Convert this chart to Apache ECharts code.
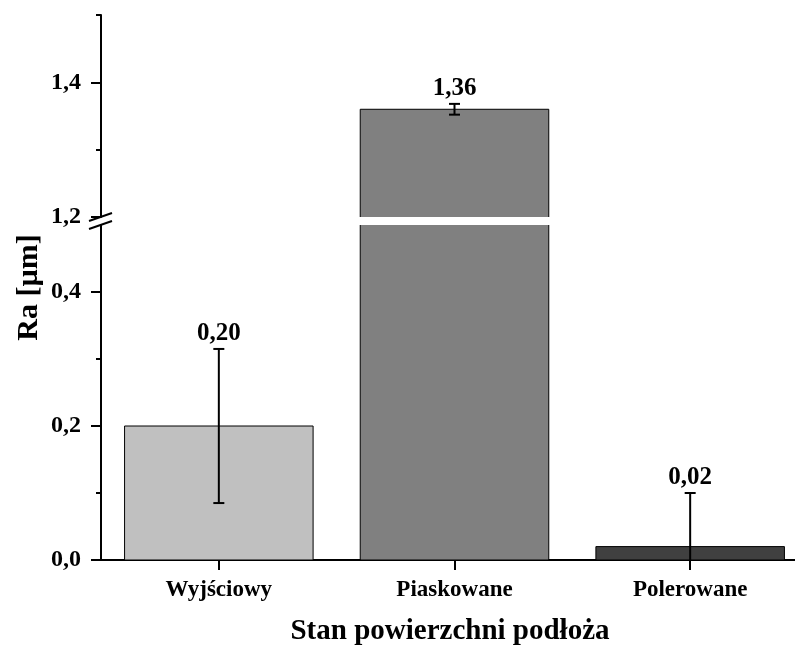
<!DOCTYPE html>
<html><head><meta charset="utf-8">
<script src="https://cdn.jsdelivr.net/npm/echarts@6/dist/echarts.min.js"></script>
<style>html,body{margin:0;padding:0;background:#fff}#c{width:795px;height:648px}</style>
</head><body><div id="c"></div>
<script>
const categories = ['Wyjściowy', 'Piaskowane', 'Polerowane'];
const raValues = [0.20, 1.36, 0.02];
const raErrors = [0.115, 0.008, 0.08];
const barColors = ['#c0c0c0', '#808080', '#404040'];
const lowerRange = [0, 0.5];
const upperRange = [1.2, 1.5];
const lowerMajorTicks = [0, 0.2, 0.4];
const lowerMinorTicks = [0.1, 0.3];
const upperMajorTicks = [1.2, 1.4];
const upperMinorTicks = [1.3, 1.5];
const xAxisTitle = 'Stan powierzchni podłoża';
const yAxisTitle = 'Ra [µm]';

const FONT = '"Liberation Serif","Times New Roman",serif';
const comma1 = v => Number(v).toFixed(1).replace('.', ',');
const comma2 = v => Number(v).toFixed(2).replace('.', ',');

const barData = categories.map((c, i) => [i, raValues[i]]);
const errData = categories.map((c, i) => [i, raValues[i], raErrors[i]]);

function renderBar(params, api) {
  const i = api.value(0), v = api.value(1);
  const top = api.coord([i, v]);
  const base = api.coord([i, 0]);
  const w = api.size([1, 0])[0] * 0.8;
  return {
    type: 'rect',
    shape: { x: top[0] - w / 2, y: top[1], width: w, height: base[1] - top[1] },
    style: { fill: barColors[i], stroke: '#000', lineWidth: 1 }
  };
}

function renderErr(params, api) {
  const i = api.value(0), v = api.value(1), e = api.value(2);
  const cs = params.coordSys;
  const c = api.coord([i, v]);
  if (c[1] < cs.y - 0.5 || c[1] > cs.y + cs.height + 0.5) return null;
  const hi = api.coord([i, v + e]);
  const lo = api.coord([i, v - e]);
  const yTop = Math.max(hi[1], cs.y);
  const yBot = Math.min(lo[1], cs.y + cs.height);
  const cap = 5.5;
  const ls = { stroke: '#000', lineWidth: 2 };
  const children = [
    { type: 'line', shape: { x1: c[0], y1: yTop, x2: c[0], y2: yBot }, style: ls }
  ];
  if (hi[1] >= cs.y) children.push({ type: 'line', shape: { x1: c[0] - cap, y1: hi[1], x2: c[0] + cap, y2: hi[1] }, style: ls });
  if (lo[1] <= cs.y + cs.height) children.push({ type: 'line', shape: { x1: c[0] - cap, y1: lo[1], x2: c[0] + cap, y2: lo[1] }, style: ls });
  children.push({
    type: 'text', x: c[0], y: hi[1] - 3,
    style: { text: comma2(v), fill: '#000', font: 'bold 25px ' + FONT, align: 'center', verticalAlign: 'bottom' }
  });
  return { type: 'group', children };
}

const axisLineStyle = { color: '#000', width: 2 };
const labelStyle = { color: '#000', fontFamily: FONT, fontWeight: 'bold' };

function yMajor(grid, range, ticks, showLine) {
  return {
    type: 'value', gridIndex: grid, position: 'left', min: range[0], max: range[1],
    axisLine: { show: showLine, lineStyle: axisLineStyle },
    axisTick: { show: true, customValues: ticks, length: 10, lineStyle: axisLineStyle },
    axisLabel: { show: true, customValues: ticks, formatter: comma1, margin: 20, fontSize: 24, ...labelStyle },
    splitLine: { show: false }
  };
}
function yMinor(grid, range, ticks) {
  return {
    type: 'value', gridIndex: grid, position: 'left', min: range[0], max: range[1],
    axisLine: { show: false },
    axisTick: { show: true, customValues: ticks, length: 5, lineStyle: axisLineStyle },
    axisLabel: { show: false },
    splitLine: { show: false }
  };
}

const gridBase = { left: 101, width: 707, outerBoundsMode: 'none', containLabel: false };
const chart = echarts.init(document.getElementById('c'), null, { renderer: 'canvas' });
const option = {
  animation: false,
  backgroundColor: '#fff',
  grid: [
    { ...gridBase, top: 15, height: 202 },
    { ...gridBase, top: 225, height: 335 },
    { ...gridBase, top: 15, height: 545 }
  ],
  xAxis: [
    { type: 'category', gridIndex: 0, data: categories, show: false },
    {
      type: 'category', gridIndex: 1, data: categories,
      axisLine: { show: true, lineStyle: axisLineStyle },
      axisTick: { show: true, alignWithLabel: true, length: 10, lineStyle: axisLineStyle },
      axisLabel: { margin: 19, fontSize: 23, ...labelStyle },
      name: xAxisTitle, nameLocation: 'middle', nameGap: 57,
      nameTextStyle: { fontSize: 29, padding: [0, 9, 0, 0], ...labelStyle }
    },
    { type: 'category', gridIndex: 2, data: categories, show: false }
  ],
  yAxis: [
    yMajor(0, upperRange, upperMajorTicks, true),
    yMinor(0, upperRange, upperMinorTicks),
    yMajor(1, lowerRange, lowerMajorTicks, true),
    yMinor(1, lowerRange, lowerMinorTicks),
    {
      type: 'value', gridIndex: 2, position: 'left', min: 0, max: 1,
      axisLine: { show: false }, axisTick: { show: false }, axisLabel: { show: false }, splitLine: { show: false },
      name: yAxisTitle, nameLocation: 'middle', nameGap: 57,
      nameTextStyle: { fontSize: 30, ...labelStyle }
    }
  ],
  series: [
    { type: 'custom', xAxisIndex: 0, yAxisIndex: 0, clip: true, renderItem: renderBar, data: barData, encode: { x: 0, y: 1 }, z: 1 },
    { type: 'custom', xAxisIndex: 1, yAxisIndex: 2, clip: true, renderItem: renderBar, data: barData, encode: { x: 0, y: 1 }, z: 1 },
    { type: 'custom', xAxisIndex: 0, yAxisIndex: 0, clip: false, renderItem: renderErr, data: errData, encode: { x: 0, y: 1 }, z: 3 },
    { type: 'custom', xAxisIndex: 1, yAxisIndex: 2, clip: false, renderItem: renderErr, data: errData, encode: { x: 0, y: 1 }, z: 3 }
  ]
};
chart.setOption(option);

// axis break marks, positioned from the axes themselves
const c0 = chart.convertToPixel({ xAxisIndex: 1 }, 0);
const c1 = chart.convertToPixel({ xAxisIndex: 1 }, 1);
const axisX = c0 - (c1 - c0) / 2;
const yU = chart.convertToPixel({ yAxisIndex: 0 }, upperRange[0]);
const yL = chart.convertToPixel({ yAxisIndex: 2 }, lowerRange[1]);
const slash = y => ({
  type: 'line', z: 100,
  shape: { x1: axisX - 12, y1: y + 4, x2: axisX + 11, y2: y - 4 },
  style: { stroke: '#000', lineWidth: 2 }
});
chart.setOption({ graphic: [slash(yU), slash(yL)] });
</script>
</body></html>
